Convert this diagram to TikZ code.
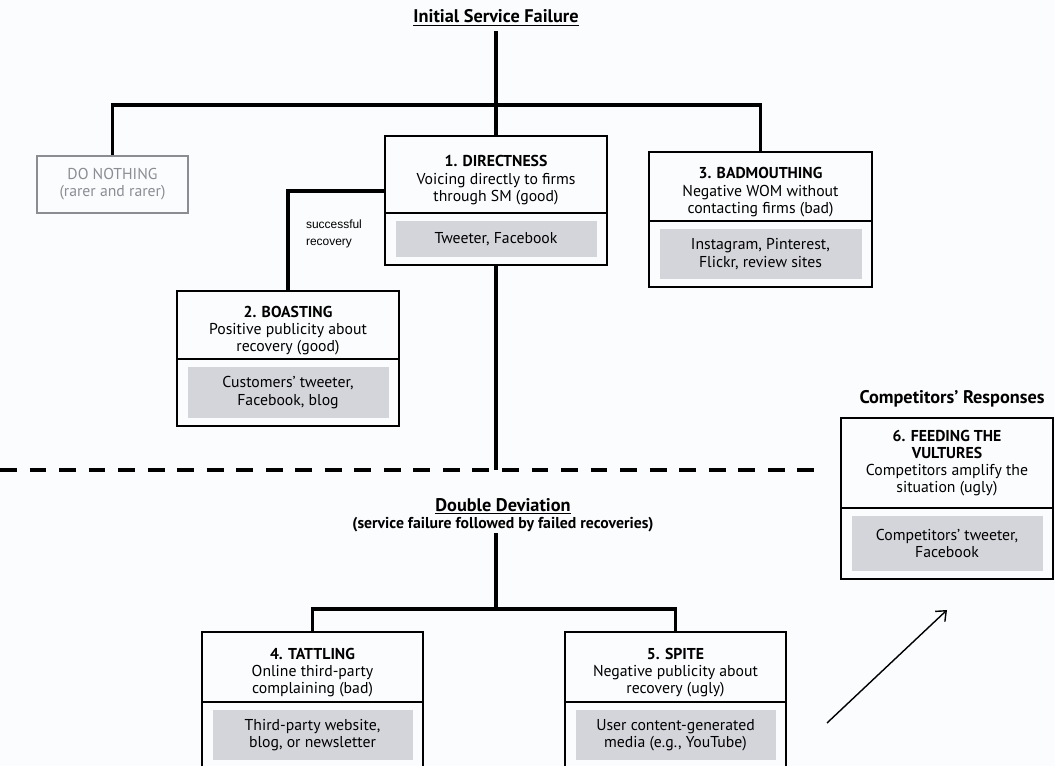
\documentclass[tikz,border=0pt]{standalone}
\usepackage{fontspec}
\setmainfont{PT Sans}
\newfontfamily\arialfont{Liberation Sans}
\usepackage{xcolor}
\usetikzlibrary{positioning,arrows.meta}
\definecolor{boxgray}{RGB}{212,213,219}
\definecolor{fadegray}{RGB}{140,141,147}
\definecolor{paper}{RGB}{251,252,253}
\newcommand\topgap{\rule{0pt}{16pt}}
\tikzset{
	conn/.style={line width=2.8pt},
	head/.style={draw, line width=1.3pt, align=center, anchor=north, outer sep=0pt, inner sep=2pt},
	media/.style={draw, line width=1.3pt, align=center, anchor=north, outer sep=0pt, inner sep=2pt,
		path picture={\fill[boxgray] ([xshift=0.28cm,yshift=0.2cm]path picture bounding box.south west) rectangle ([xshift=-0.25cm,yshift=-0.2cm]path picture bounding box.north east);}},
	bigtitle/.style={font=\bfseries\fontsize{13}{14}\selectfont}
}

\begin{document}
\begin{tikzpicture}[x=0.025cm, y=-0.025cm, font=\fontsize{11.2}{12.2}\selectfont]
			\useasboundingbox (0,0) rectangle (1055,766);
			\fill[paper] (0,0) rectangle (1055,766);
			\clip (0,0) rectangle (1055,766);
			% Tiêu đề
			\node[bigtitle] (title) at (496,18) {\underline{Initial Service Failure}};
			\node[bigtitle] (comp) at (952,399) {Competitors' Responses};
			\node[align=center, inner sep=1pt] (dd) at (503,515) {{\bfseries\fontsize{13}{14}\selectfont\underline{Double Deviation}}\\\textbf{(service failure followed by failed recoveries)}};
			% Vẽ các hộp
			\node[draw=fadegray, text=fadegray, line width=1.3pt, align=center, minimum width=3.775cm, minimum height=1.425cm] (nothing) at (112.5,184.5) {DO NOTHING\\(rarer and rarer)};
			\node[head, minimum width=5.55cm, minimum height=1.925cm] (dir) at (496,136) {\topgap\textbf{1. DIRECTNESS}\\Voicing directly to firms\\through SM (good)};
			\node[media, minimum width=5.55cm, minimum height=1.3cm, below=0pt of dir] (dirm) {Tweeter, Facebook};
			\node[head, minimum width=5.575cm, minimum height=1.725cm] (bad) at (760.5,152) {\topgap\textbf{3. BADMOUTHING}\\Negative WOM without\\contacting firms (bad)};
			\node[media, minimum width=5.575cm, minimum height=1.65cm, below=0pt of bad] (badm) {Instagram, Pinterest,\\Flickr, review sites};
			\node[head, minimum width=5.55cm, minimum height=1.7cm] (boast) at (288,291) {\topgap\textbf{2. BOASTING}\\Positive publicity about\\recovery (good)};
			\node[media, minimum width=5.55cm, minimum height=1.675cm, below=0pt of boast] (boastm) {Customers' tweeter,\\Facebook, blog};
			\node[head, minimum width=5.3cm, minimum height=2.25cm] (feed) at (947,418) {\textbf{6. FEEDING THE}\\\textbf{VULTURES}\\Competitors amplify the\\situation (ugly)};
			\node[media, minimum width=5.3cm, minimum height=1.775cm, below=0pt of feed] (feedm) {Competitors' tweeter,\\Facebook};
			\node[head, minimum width=5.525cm, minimum height=1.75cm] (tat) at (312.5,632) {\topgap\textbf{4. TATTLING}\\Online third-party\\complaining (bad)};
			\node[media, minimum width=5.525cm, minimum height=1.65cm, below=0pt of tat] (tatm) {Third-party website,\\blog, or newsletter};
			\node[head, minimum width=5.525cm, minimum height=1.75cm] (spite) at (675.5,632) {\topgap\textbf{5. SPITE}\\Negative publicity about\\recovery (ugly)};
			\node[media, minimum width=5.525cm, minimum height=1.65cm, below=0pt of spite] (spitem) {User content-generated\\media (e.g., YouTube)};
			\node[font=\arialfont\fontsize{8.5}{12}\selectfont, align=left] (succ) at (334,234) {successful\\recovery};
			% Vẽ đường nối
			\coordinate (split) at (496,105);
			\coordinate (recov) at (385,191);
			\coordinate (cut) at (496,470);
			\coordinate (dashl) at (0,470);
			\coordinate (dashr) at (825,470);
			\coordinate (ddsplit) at (496,609);
			\coordinate (arrfrom) at (827,723);
			\coordinate (arrto) at (947,610);
			\draw[conn] (title.south) -- (dir.north);
			\draw[conn] (nothing.north) |- (split) -| (bad.north);
			\draw[conn] (recov) -| (boast.north);
			\draw[conn] (dirm.south) -- (cut);
			\draw[conn, dash pattern=on 12pt off 9pt] (dashl) -- (dashr);
			\draw[conn] (ddsplit |- dd.south) -- (ddsplit);
			\draw[conn] (tat.north) |- (ddsplit) -| (spite.north);
			\draw[line width=1pt, -{Straight Barb[length=6pt,width=10pt]}] (arrfrom) -- (arrto);
		\end{tikzpicture}
\end{document}
